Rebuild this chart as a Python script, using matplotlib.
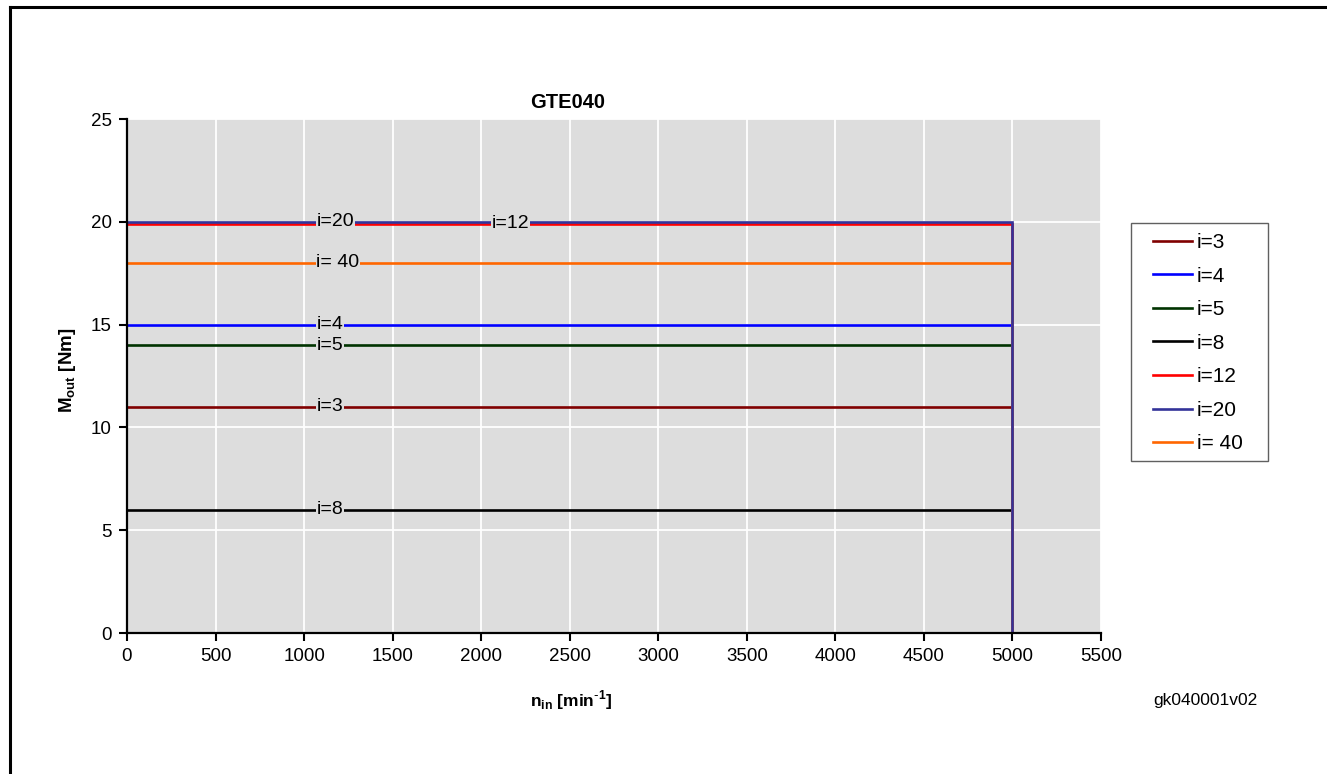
import matplotlib
matplotlib.use("Agg")
import matplotlib.pyplot as plt
from matplotlib.lines import Line2D
from matplotlib.patches import Rectangle

plt.rcParams['font.family'] = ['Liberation Sans', 'DejaVu Sans']

# gear ratios and their constant output torque up to 5000 min-1
labels = ['i=3', 'i=4', 'i=5', 'i=8', 'i=12', 'i=20', 'i= 40']
torque = [11, 15, 14, 6, 19.9, 20, 18]
n_max = 5000
colors = ['#800000', '#0000FF', '#003300', '#000000', '#FF0000', '#333399', '#FF6600']
# where the inline labels sit (x in min-1)
label_x = [1070, 1070, 1070, 1070, 2060, 1070, 1070]

fig = plt.figure(figsize=(13.27, 7.74), dpi=100)
ax = fig.add_axes([127/1327, 1 - 633/774, (1101-127)/1327, (633-119)/774])
ax.set_facecolor('#DDDDDD')

handles = []
for i in range(len(labels)):
    z = 4 if labels[i] == 'i=20' else 3
    h, = ax.plot([0, n_max, n_max], [torque[i], torque[i], 0], color=colors[i],
                 linewidth=1.9, label=labels[i], zorder=z, solid_joinstyle='miter')
    handles.append(h)
    ax.text(label_x[i], torque[i], labels[i], fontsize=14, ha='left', va='center',
            zorder=5, bbox=dict(facecolor='#DDDDDD', edgecolor='none', pad=0.5))

ax.set_xlim(0, 5500)
ax.set_ylim(0, 25)
ax.set_xticks(range(0, 5501, 500))
ax.set_yticks(range(0, 26, 5))
ax.grid(True, color='white', linewidth=1.3)
ax.set_axisbelow(True)
ax.tick_params(direction='out', length=6, width=1.5, labelsize=13.5, pad=5)
for s in ['top', 'right']:
    ax.spines[s].set_visible(False)
for s in ['left', 'bottom']:
    ax.spines[s].set_linewidth(1.6)
    ax.spines[s].set_zorder(6)

fig.text(568/1327, 1 - 102/774, 'GTE040', fontsize=14.5, fontweight='bold', ha='center', va='center')
fig.text(68/1327, 1 - 370/774, r'M$_{\mathregular{out}}$ [Nm]', fontsize=13.5, fontweight='bold',
         rotation=90, ha='center', va='center')
fig.text(571/1327, 1 - 700/774, r'n$_{\mathregular{in}}$ [min$^{\mathregular{\text{-}1}}$]', fontsize=12.5,
         fontweight='bold', ha='center', va='center')
fig.text(1205/1327, 1 - 700/774, 'gk040001v02', fontsize=12.5, ha='center', va='center')

# legend box drawn separately so it gets the same size as the original
fig.add_artist(Rectangle((1131/1327, 1 - 461/774), (1268-1131)/1327, (461-223)/774,
                         transform=fig.transFigure, facecolor='white', edgecolor='#606060',
                         linewidth=1.0, zorder=1))
leg = fig.legend(handles, labels, loc='upper left', bbox_to_anchor=(1153/1327, 1 - 233/774),
                 bbox_transform=fig.transFigure, fontsize=15, frameon=False,
                 handlelength=1.85, handletextpad=0.25, labelspacing=0.7, borderaxespad=0,
                 borderpad=0)
leg.set_zorder(2)

# page border on left and top
fig.add_artist(Line2D([9.5/1327, 9.5/1327], [0, 1 - 7/774], color='black', linewidth=2.2,
                      transform=fig.transFigure))
fig.add_artist(Line2D([9.5/1327, 1], [1 - 7/774, 1 - 7/774], color='black', linewidth=2.2,
                      transform=fig.transFigure))

fig.savefig('out.png', dpi=100)
